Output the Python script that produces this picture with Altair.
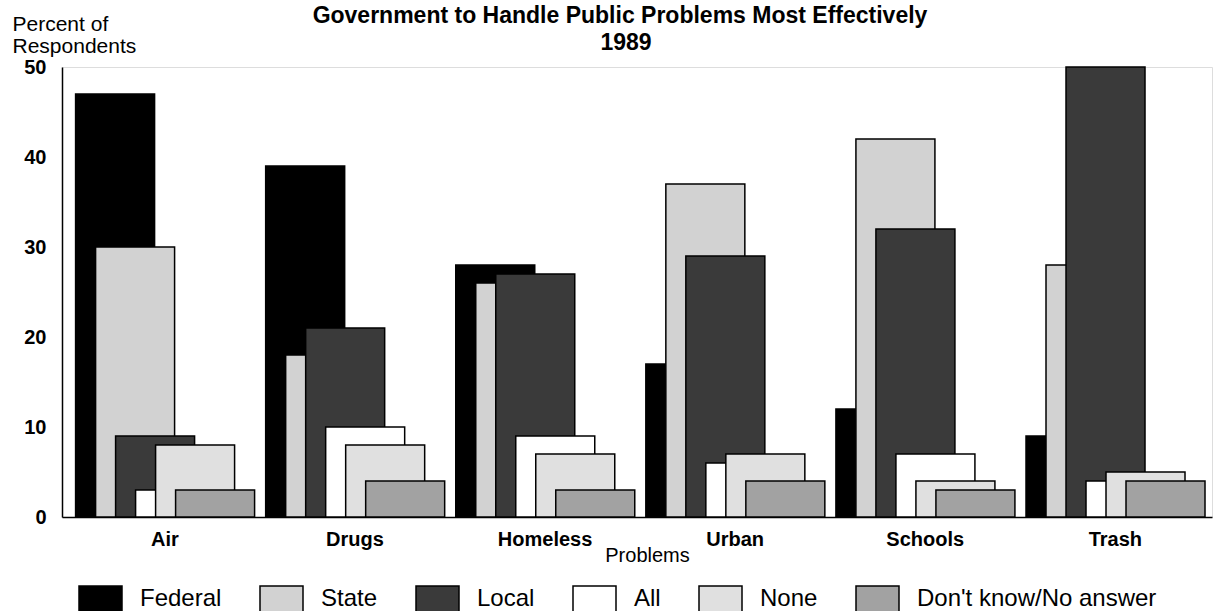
import altair as alt
import pandas as pd

problems = ["Air", "Drugs", "Homeless", "Urban", "Schools", "Trash"]
series = ["Federal", "State", "Local", "All", "None", "Don't know/No answer"]
federal = [47, 39, 28, 17, 12, 9]
state = [30, 18, 26, 37, 42, 28]
local = [9, 21, 27, 29, 32, 50]
all_levels = [3, 10, 9, 6, 7, 4]
none = [8, 8, 7, 7, 4, 5]
dont_know = [3, 4, 3, 4, 3, 4]

title_lines = ["Government to Handle Public Problems Most Effectively", "1989"]
y_title = ["Percent of", "Respondents"]

fills = ["#000000", "#d2d2d2", "#3a3a3a", "#ffffff", "#e0e0e0", "#a2a2a2"]

rows = []
for i, p in enumerate(problems):
    for s, vals in zip(series, [federal, state, local, all_levels, none, dont_know]):
        rows.append({"Problem": p, "Series": s, "Percent": vals[i]})
df = pd.DataFrame(rows)

FONT = "Liberation Sans, Arial, Helvetica, sans-serif"

bars = alt.Chart(df).mark_bar(width=79, stroke="black", strokeWidth=1.5).encode(
    x=alt.X(
        "Problem:N",
        sort=problems,
        scale=alt.Scale(paddingInner=0.06, paddingOuter=0.055, align=0.65),
        axis=alt.Axis(
            title="Problems",
            labelAngle=0,
            labelFont=FONT,
            labelFontSize=20,
            labelFontWeight="bold",
            labelColor="black",
            labelPadding=12,
            ticks=False,
            domainColor="black",
            domainWidth=1.5,
            titleFont=FONT,
            titleFontSize=20,
            titleFontWeight="normal",
            titleColor="black",
            titleBaseline="middle",
            titleY=38,
            titleX=585,
        ),
    ),
    xOffset=alt.XOffset(
        "Series:N",
        sort=series,
        scale=alt.Scale(paddingInner=0, paddingOuter=0, range=[29.5, 149.5]),
    ),
    y=alt.Y(
        "Percent:Q",
        stack=None,
        scale=alt.Scale(domain=[0, 50], nice=False),
        axis=alt.Axis(
            values=[0, 10, 20, 30, 40, 50],
            grid=False,
            ticks=False,
            labelFont=FONT,
            labelFontSize=20,
            labelFontWeight="bold",
            labelColor="black",
            labelPadding=16,
            domainColor="black",
            domainWidth=1.5,
            title=y_title,
            titleAngle=0,
            titleAlign="left",
            titleBaseline="alphabetic",
            titleX=-50,
            titleY=-37,
            titleFont=FONT,
            titleFontSize=21,
            titleFontWeight="normal",
            titleColor="black",
            titleLineHeight=22,
        ),
    ),
    color=alt.Color(
        "Series:N",
        sort=series,
        scale=alt.Scale(domain=series, range=fills),
        legend=alt.Legend(
            title=None,
            orient="none",
            legendX=16,
            legendY=509,
            direction="horizontal",
            columns=6,
            symbolType="M-1,-0.6H1V0.6H-1Z",
            symbolSize=1849,
            symbolStrokeColor="black",
            symbolStrokeWidth=1.5,
            symbolOpacity=1,
            labelFont=FONT,
            labelFontSize=24,
            labelColor="black",
            labelOffset=17,
            labelLimit=400,
            columnPadding=35,
            padding=0,
        ),
    ),
)

title1 = alt.Chart(pd.DataFrame({"t": [title_lines[0]]})).mark_text(
    font=FONT, fontSize=23, fontWeight="bold", color="black",
    align="center", baseline="alphabetic",
).encode(text="t:N", x=alt.value(558), y=alt.value(-44))

title2 = alt.Chart(pd.DataFrame({"t": [title_lines[1]]})).mark_text(
    font=FONT, fontSize=23, fontWeight="bold", color="black",
    align="center", baseline="alphabetic",
).encode(text="t:N", x=alt.value(564), y=alt.value(-17))

chart = alt.layer(bars, title1, title2).properties(
    width=1150,
    height=450,
    autosize=alt.AutoSizeParams(type="none"),
    padding={"left": 62, "top": 67, "right": 6, "bottom": 94},
).configure_view(stroke="black", strokeWidth=1.5).configure(background="white")

chart.save("out.html", embed_options={"renderer": "svg", "actions": False})
